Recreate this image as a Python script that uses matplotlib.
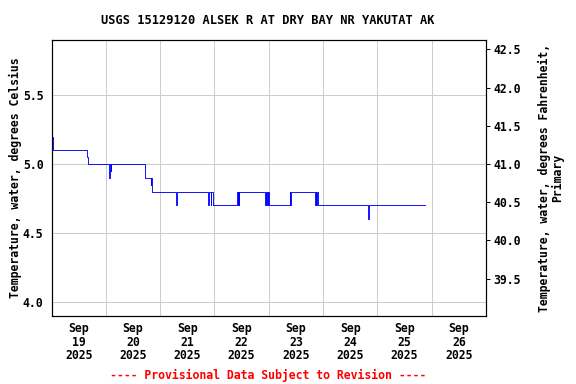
import numpy as np
import pandas as pd
import matplotlib
matplotlib.use("Agg")
from matplotlib import pyplot as plt

# step series (time, deg C)
times = [
    "2025-09-19 00:00", "2025-09-19 00:45", "2025-09-19 15:30", "2025-09-19 16:00",
    "2025-09-20 01:30", "2025-09-20 01:45", "2025-09-20 02:10", "2025-09-20 02:30",
    "2025-09-20 17:10", "2025-09-20 17:30", "2025-09-20 19:50", "2025-09-20 20:10",
    "2025-09-20 20:20",
    "2025-09-21 07:00", "2025-09-21 07:15",
    "2025-09-21 21:20", "2025-09-21 21:40", "2025-09-21 22:20", "2025-09-21 22:40",
    "2025-09-21 23:30",
    "2025-09-22 10:10", "2025-09-22 10:20", "2025-09-22 10:30", "2025-09-22 10:40",
    "2025-09-22 10:50",
    "2025-09-22 22:30", "2025-09-22 22:45", "2025-09-22 23:00", "2025-09-22 23:15",
    "2025-09-22 23:30", "2025-09-22 23:50", "2025-09-23 00:10",
    "2025-09-23 09:25", "2025-09-23 09:35", "2025-09-23 09:45",
    "2025-09-23 20:30", "2025-09-23 20:45", "2025-09-23 21:00", "2025-09-23 21:15",
    "2025-09-23 21:40",
    "2025-09-24 20:00", "2025-09-24 20:15", "2025-09-24 20:30",
    "2025-09-25 21:05",
]
temp_c = [
    5.2, 5.1, 5.05, 5.0,
    4.9, 5.0, 4.95, 5.0,
    4.95, 4.9, 4.85, 4.9,
    4.8,
    4.7, 4.8,
    4.7, 4.8, 4.7, 4.8,
    4.7,
    4.8, 4.7, 4.8, 4.7,
    4.8,
    4.7, 4.8, 4.7, 4.8,
    4.7, 4.8, 4.7,
    4.8, 4.7, 4.8,
    4.7, 4.8, 4.7, 4.8,
    4.7,
    4.6, 4.65, 4.7,
    4.7,
]
day_labels = ["Sep\n19\n2025", "Sep\n20\n2025", "Sep\n21\n2025", "Sep\n22\n2025",
              "Sep\n23\n2025", "Sep\n24\n2025", "Sep\n25\n2025", "Sep\n26\n2025"]
c_ticks = [4.0, 4.5, 5.0, 5.5]
f_ticks = [39.5, 40.0, 40.5, 41.0, 41.5, 42.0, 42.5]

plt.rcParams['font.family'] = ['DejaVu Sans Mono']
plt.rcParams['font.weight'] = 'bold'
fs = 11.5

t = pd.to_datetime(times)
fig = plt.figure(figsize=(8, 384 / 72), dpi=72)
ax = fig.add_axes([51.5 / 576, 1 - 316 / 384, (486 - 51.5) / 576, (316 - 40) / 384])

ax.plot(t, temp_c, drawstyle='steps-post', color='blue', linewidth=0.9)

x0 = pd.Timestamp("2025-09-19 00:00")
x1 = pd.Timestamp("2025-09-27 00:00")
ax.set_xlim(x0, x1)
ylo, yhi = 3.895, 5.902
ax.set_ylim(ylo, yhi)

noons = pd.date_range("2025-09-19 12:00", periods=8, freq="D")
mids = pd.date_range("2025-09-20 00:00", periods=7, freq="D")
ax.set_xticks(noons)
ax.set_xticklabels(day_labels, fontsize=fs, fontweight='bold', linespacing=1.05)
ax.set_xticks(mids, minor=True)
ax.set_yticks(c_ticks)
ax.set_yticklabels(["%.1f" % v for v in c_ticks], fontsize=fs, fontweight='bold')
ax.tick_params(axis='x', which='both', length=0, pad=6)
ax.tick_params(axis='y', length=0, pad=8)
ax.grid(True, axis='x', which='minor', color='#cccccc', linewidth=1)
ax.grid(True, axis='y', which='major', color='#cccccc', linewidth=1)
ax.set_axisbelow(True)
for s in ax.spines.values():
    s.set_linewidth(1.2)

ax2 = ax.twinx()
ax2.set_ylim(ylo * 1.8 + 32, yhi * 1.8 + 32)
ax2.set_yticks(f_ticks)
ax2.set_yticklabels(["%.1f" % v for v in f_ticks], fontsize=fs, fontweight='bold')
ax2.tick_params(axis='y', length=4, width=1, pad=3)
for s in ax2.spines.values():
    s.set_visible(False)

fig.text(15 / 576, 1 - 178 / 384, "Temperature, water, degrees Celsius",
         rotation=90, ha='center', va='center', fontsize=fs, fontweight='bold')
fig.text(551 / 576, 1 - 178 / 384, "Temperature, water, degrees Fahrenheit,\nPrimary",
         rotation=90, ha='center', va='center', fontsize=fs, fontweight='bold',
         multialignment='center', linespacing=1.0)
fig.text(268 / 576, 1 - 20 / 384, "USGS 15129120 ALSEK R AT DRY BAY NR YAKUTAT AK",
         ha='center', va='center', fontsize=12, fontweight='bold')
fig.text(268 / 576, 1 - 375 / 384, "---- Provisional Data Subject to Revision ----",
         ha='center', va='center', fontsize=fs, fontweight='bold', color='red')

fig.savefig("out.png", dpi=72)
